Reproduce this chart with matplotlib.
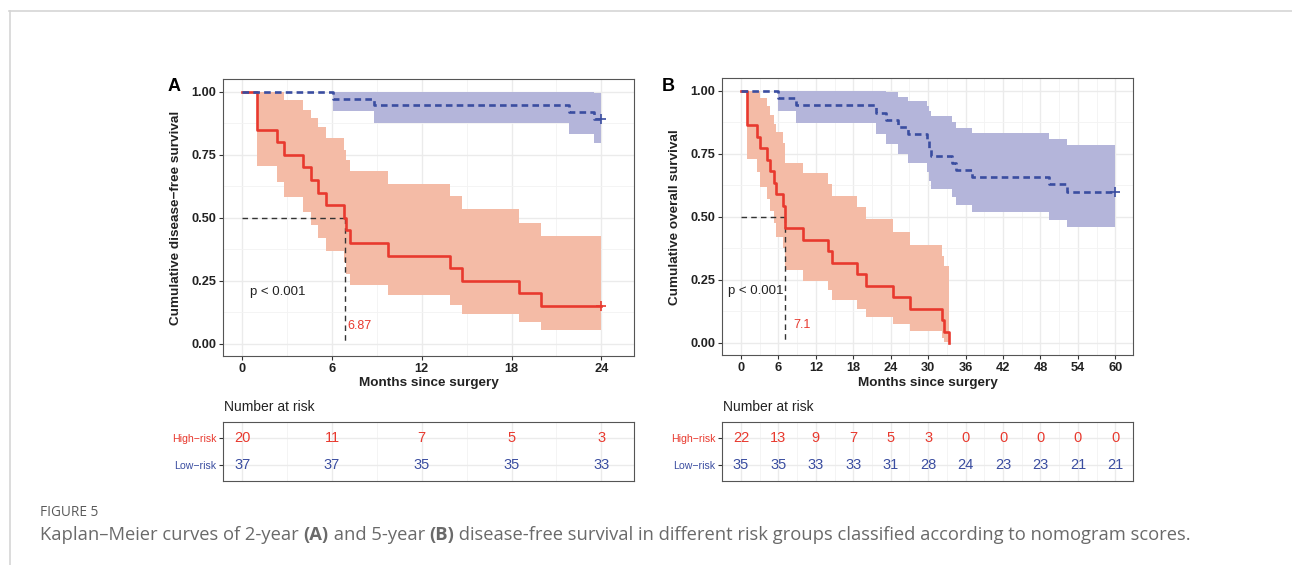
import matplotlib
matplotlib.use('Agg')
import matplotlib.pyplot as plt
from matplotlib.lines import Line2D
from matplotlib.ticker import MultipleLocator, FormatStrFormatter

plt.rcParams['font.family'] = ['Liberation Sans', 'DejaVu Sans']

# ---------------- data ----------------
# Panel A (2-year disease-free survival)
A_high_time = [0, 1.0, 2.3, 2.8, 4.08, 4.59, 5.08, 5.57, 6.82, 6.93, 7.23, 9.76, 13.9, 14.66, 18.5, 20.0]
A_high_surv = [1.0, 0.85, 0.80, 0.75, 0.70, 0.65, 0.60, 0.55, 0.50, 0.45, 0.40, 0.35, 0.30, 0.25, 0.20, 0.15]
A_high_upper = [1.0, 1.0, 1.0, 0.967, 0.93, 0.897, 0.86, 0.815, 0.77, 0.73, 0.685, 0.636, 0.587, 0.534, 0.481, 0.426]
A_high_lower = [1.0, 0.706, 0.643, 0.582, 0.524, 0.472, 0.421, 0.368, 0.323, 0.277, 0.233, 0.192, 0.155, 0.117, 0.084, 0.053]

A_low_time = [0, 6.08, 8.78, 21.84, 23.5]
A_low_surv = [1.0, 0.973, 0.946, 0.919, 0.892]
A_low_upper = [1.0, 1.0, 1.0, 1.0, 0.997]
A_low_lower = [1.0, 0.923, 0.878, 0.834, 0.798]

A_median = 6.87
A_risk_times = [0, 6, 12, 18, 24]
A_risk_high = [20, 11, 7, 5, 3]
A_risk_low = [37, 37, 35, 35, 33]

# Panel B (5-year)
B_high_time = [0, 1.0, 2.6, 3.0, 4.1, 4.7, 5.3, 5.6, 6.8, 7.1, 9.9, 13.9, 14.6, 18.6, 20.0, 24.4, 27.1, 32.2, 32.6, 33.3]
B_high_surv = [1.0, 0.864, 0.818, 0.773, 0.727, 0.682, 0.636, 0.591, 0.545, 0.455, 0.409, 0.364, 0.318, 0.273, 0.227, 0.182, 0.136, 0.091, 0.045, 0.0]
B_high_upper = [1.0, 1.0, 1.0, 0.97, 0.94, 0.905, 0.87, 0.835, 0.795, 0.715, 0.676, 0.63, 0.584, 0.539, 0.491, 0.44, 0.388, 0.345, 0.305, 0.305]
B_high_lower = [1.0, 0.73, 0.68, 0.62, 0.57, 0.525, 0.475, 0.42, 0.375, 0.288, 0.246, 0.209, 0.172, 0.136, 0.103, 0.074, 0.048, 0.02, 0.005, 0.005]

B_low_time = [0, 6.0, 8.75, 21.6, 23.3, 25.2, 26.8, 29.8, 30.2, 30.5, 33.8, 34.4, 37.1, 49.4, 52.2]
B_low_surv = [1.0, 0.971, 0.943, 0.914, 0.886, 0.857, 0.829, 0.80, 0.771, 0.743, 0.714, 0.686, 0.657, 0.629, 0.60]
B_low_upper = [1.0, 1.0, 1.0, 1.0, 0.995, 0.977, 0.96, 0.94, 0.92, 0.90, 0.877, 0.854, 0.832, 0.808, 0.784]
B_low_lower = [1.0, 0.922, 0.872, 0.828, 0.788, 0.749, 0.713, 0.679, 0.643, 0.61, 0.577, 0.547, 0.518, 0.489, 0.458]

B_median = 7.1
B_risk_times = [0, 6, 12, 18, 24, 30, 36, 42, 48, 54, 60]
B_risk_high = [22, 13, 9, 7, 5, 3, 0, 0, 0, 0, 0]
B_risk_low = [35, 35, 33, 33, 31, 28, 24, 23, 23, 21, 21]

groups = ['Low\u2212risk', 'High\u2212risk']
RED = '#E8392E'
RED_FILL = '#F4BBA6'
BLUE = '#3A4DA0'
BLUE_FILL = '#B4B5DA'
GRID = '#EBEBEB'
DARK = '#222222'

W, H = 1292, 565
fig = plt.figure(figsize=(W / 100, H / 100), dpi=100)


def fr(px_left, px_top, px_right, px_bottom):
    return [px_left / W, 1 - px_bottom / H, (px_right - px_left) / W, (px_bottom - px_top) / H]


def km(ax, t, s, lo, hi, end, color, fill, dashed, censor):
    te = list(t) + [end]
    se = list(s) + [s[-1]]
    loe = list(lo) + [lo[-1]]
    hie = list(hi) + [hi[-1]]
    ax.fill_between(te, loe, hie, step='post', color=fill, lw=0, zorder=2)
    if dashed:
        ax.step(te, se, where='post', color=color, lw=1.9, dashes=(2.5, 1.6), zorder=5)
    else:
        ax.step(te, se, where='post', color=color, lw=1.9, zorder=4)
    if censor:
        ax.plot([end], [s[-1]], marker='+', ms=7, mew=1.2, color=color, zorder=6, ls='none')


def style_axes(ax, xmaj, xmin):
    ax.xaxis.set_major_locator(MultipleLocator(xmaj))
    ax.xaxis.set_minor_locator(MultipleLocator(xmin))
    ax.grid(True, which='major', color=GRID, lw=1.0, zorder=0)
    ax.grid(True, which='minor', color='#F3F3F3', lw=0.6, zorder=0)
    ax.set_axisbelow(True)
    for sp in ax.spines.values():
        sp.set_color('#555555')
        sp.set_linewidth(0.8)
    ax.tick_params(which='major', length=3, width=0.8, color='#333333', pad=2)
    ax.tick_params(which='minor', length=0)


def main_panel(rect, xlim, xmaj, xmin, data_high, data_low, end_high, end_low, censor_high,
               median, ylabel, ptxt_x, med_x):
    ax = fig.add_axes(rect)
    ax.set_xlim(*xlim)
    ax.set_ylim(-0.048, 1.05)
    ax.yaxis.set_major_locator(MultipleLocator(0.25))
    ax.yaxis.set_minor_locator(MultipleLocator(0.125))
    ax.yaxis.set_major_formatter(FormatStrFormatter('%.2f'))
    style_axes(ax, xmaj, xmin)
    km(ax, *data_high, end_high, RED, RED_FILL, False, censor_high)
    km(ax, *data_low, end_low, BLUE, BLUE_FILL, True, True)
    ax.plot([0, median], [0.5, 0.5], color='#333333', lw=1.0, dashes=(4, 3), zorder=3)
    ax.plot([median, median], [0.5, 0.0], color='#333333', lw=1.0, dashes=(4, 3), zorder=3)
    ax.text(ptxt_x, 0.205, 'p < 0.001', fontsize=9.5, color=DARK, va='center', ha='left', zorder=7)
    ax.text(med_x, 0.07, f'{median:g}', fontsize=9, color=RED, va='center', ha='left', zorder=7)
    ax.set_xlabel('Months since surgery', fontsize=9.7, fontweight='bold', color=DARK, labelpad=2)
    ax.set_ylabel(ylabel, fontsize=9.7, fontweight='bold', color=DARK, labelpad=7)
    for lab in ax.get_xticklabels() + ax.get_yticklabels():
        lab.set_fontweight('bold')
        lab.set_fontsize(9.2)
        lab.set_color(DARK)
    return ax


def risk_table(rect, xlim, xmaj, xmin, times, high, low, title_px):
    ax = fig.add_axes(rect)
    ax.set_xlim(*xlim)
    ax.set_ylim(0.4, 2.6)
    style_axes(ax, xmaj, xmin)
    ax.set_yticks([1, 2])
    ax.set_yticklabels(groups)
    ax.yaxis.set_minor_locator(MultipleLocator(10))
    ax.tick_params(axis='x', which='both', length=0, labelbottom=False)
    ax.tick_params(axis='y', labelsize=7.6, pad=2)
    ax.get_yticklabels()[0].set_color(BLUE)
    ax.get_yticklabels()[1].set_color(RED)
    for t, h, l in zip(times, high, low):
        ax.text(t, 2, str(h), color=RED, fontsize=10.5, ha='center', va='center')
        ax.text(t, 1, str(l), color=BLUE, fontsize=10.5, ha='center', va='center')
    fig.text(title_px / W, 1 - 406.7 / H, 'Number at risk', fontsize=10, color=DARK, ha='left', va='center')
    return ax


# Panel A
main_panel(fr(223.3, 79.3, 634, 355.7), (-1.27, 26.19), 6, 3,
           (A_high_time, A_high_surv, A_high_lower, A_high_upper),
           (A_low_time, A_low_surv, A_low_lower, A_low_upper),
           24, 24, True, A_median, 'Cumulative disease\u2212free survival', 0.5, 7.05)
risk_table(fr(223.3, 422.3, 634, 480.7), (-1.27, 26.19), 6, 3,
           A_risk_times, A_risk_high, A_risk_low, 224)

# Panel B
main_panel(fr(722.3, 78.3, 1133.3, 355), (-3.0, 62.88), 6, 3,
           (B_high_time, B_high_surv, B_high_lower, B_high_upper),
           (B_low_time, B_low_surv, B_low_lower, B_low_upper),
           33.3, 60, False, B_median, 'Cumulative overall survival', -2.13, 8.33)
risk_table(fr(722.3, 421.7, 1133.3, 480.7), (-3.0, 62.88), 6, 3,
           B_risk_times, B_risk_high, B_risk_low, 723.3)

# panel letters
fig.text(168 / W, 1 - 86.5 / H, 'A', fontsize=13, fontweight='bold', color='black', va='center', ha='left')
fig.text(662 / W, 1 - 86.5 / H, 'B', fontsize=13, fontweight='bold', color='black', va='center', ha='left')

# outer frame lines
fig.add_artist(Line2D([9 / W, 1], [1 - 11 / H, 1 - 11 / H], transform=fig.transFigure, color='#D5D5D5', lw=1.2))
fig.add_artist(Line2D([9.5 / W, 9.5 / W], [0, 1 - 11 / H], transform=fig.transFigure, color='#D5D5D5', lw=1.2))

# caption
cap_font = ['Open Sans', 'DejaVu Sans']
fig.text(40 / W, 1 - 513 / H, 'FIGURE 5', fontsize=9.8, color='#5a5a5a', family=cap_font, ha='left', va='center')
parts = [('Kaplan\u2013Meier curves of 2-year ', 'normal'), ('(A)', 'bold'),
         (' and 5-year ', 'normal'), ('(B)', 'bold'),
         (' disease-free survival in different risk groups classified according to nomogram scores.', 'normal')]
renderer = fig.canvas.get_renderer()
x = 40 / W
for s, wgt in parts:
    t = fig.text(x, 1 - 535 / H, s, fontsize=13.2, color='#6a6a6a', family=cap_font,
                 fontweight=wgt, ha='left', va='center')
    bb = t.get_window_extent(renderer)
    x += bb.width / W

fig.savefig('out.png', dpi=100)
